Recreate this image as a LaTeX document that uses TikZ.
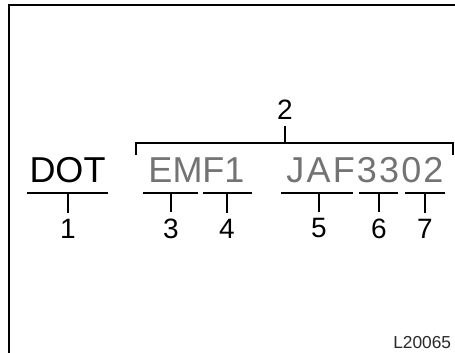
\documentclass[tikz,border=0pt]{standalone}
\usepackage{fontspec}
\setmainfont{Liberation Sans}
\usepackage{tikz}
\usetikzlibrary{positioning,calc}
\usepackage{xcolor}
\definecolor{codegray}{RGB}{115,115,115}
\definecolor{refgray}{RGB}{40,40,40}
\tikzset{
  frm/.style={line width=1.4pt,black},
  ln/.style={line width=0.9pt,black},
  code/.style={inner sep=0pt,anchor=base,font=\fontsize{27}{30}\selectfont},
  codeB/.style={code,text=codegray},
  codeW/.style={codeB,font=\fontsize{27}{30}\selectfont\addfontfeature{LetterSpace=6}},
  num/.style={inner xsep=0pt,inner ysep=4.5pt,font=\fontsize{21}{24}\selectfont},
  refl/.style={inner sep=0pt,anchor=base west,text=refgray,
               font=\fontsize{13}{15}\selectfont},
}

\begin{document}
\begin{tikzpicture}[x=0.75pt,y=-0.75pt]
    \useasboundingbox (0,0) rectangle (455,353);
    \draw[frm] (9,353) -- (9,5) -- (455,5);
    % the three code groups
    \node[code] (dot) at (67.5,183) {DOT};
    \node[codeB] (emf) at (196.5,183) {EMF1};
    \node[codeW] (jaf) at (365,183) {JAF3302};
    % bracket over the serial part
    \draw[ln] (136,155) -- (136,143) -- (453,143) -- (453,155);
    \coordinate (b2) at (285,143);
    \node[num] (n2) at (285,109.5) {2};
    \draw[ln] (n2) -- (b2);
    % underlines and numbers
    \foreach \a/\b/\m/\n in {27/108/68/1, 143/198/171/3, 203/252/227/4,
                             281/353/319/5, 359/398/379/6, 405/445/425/7}{
      \draw[ln] (\a,193) -- (\b,193);
      \coordinate (u\n) at (\m,193);
      \node[num] (n\n) at (\m,228.5) {\n};
      \draw[ln] (u\n) -- (n\n);
    }
    \node[refl] (ref) at (393,349) {L20065};
  \end{tikzpicture}
\end{document}
